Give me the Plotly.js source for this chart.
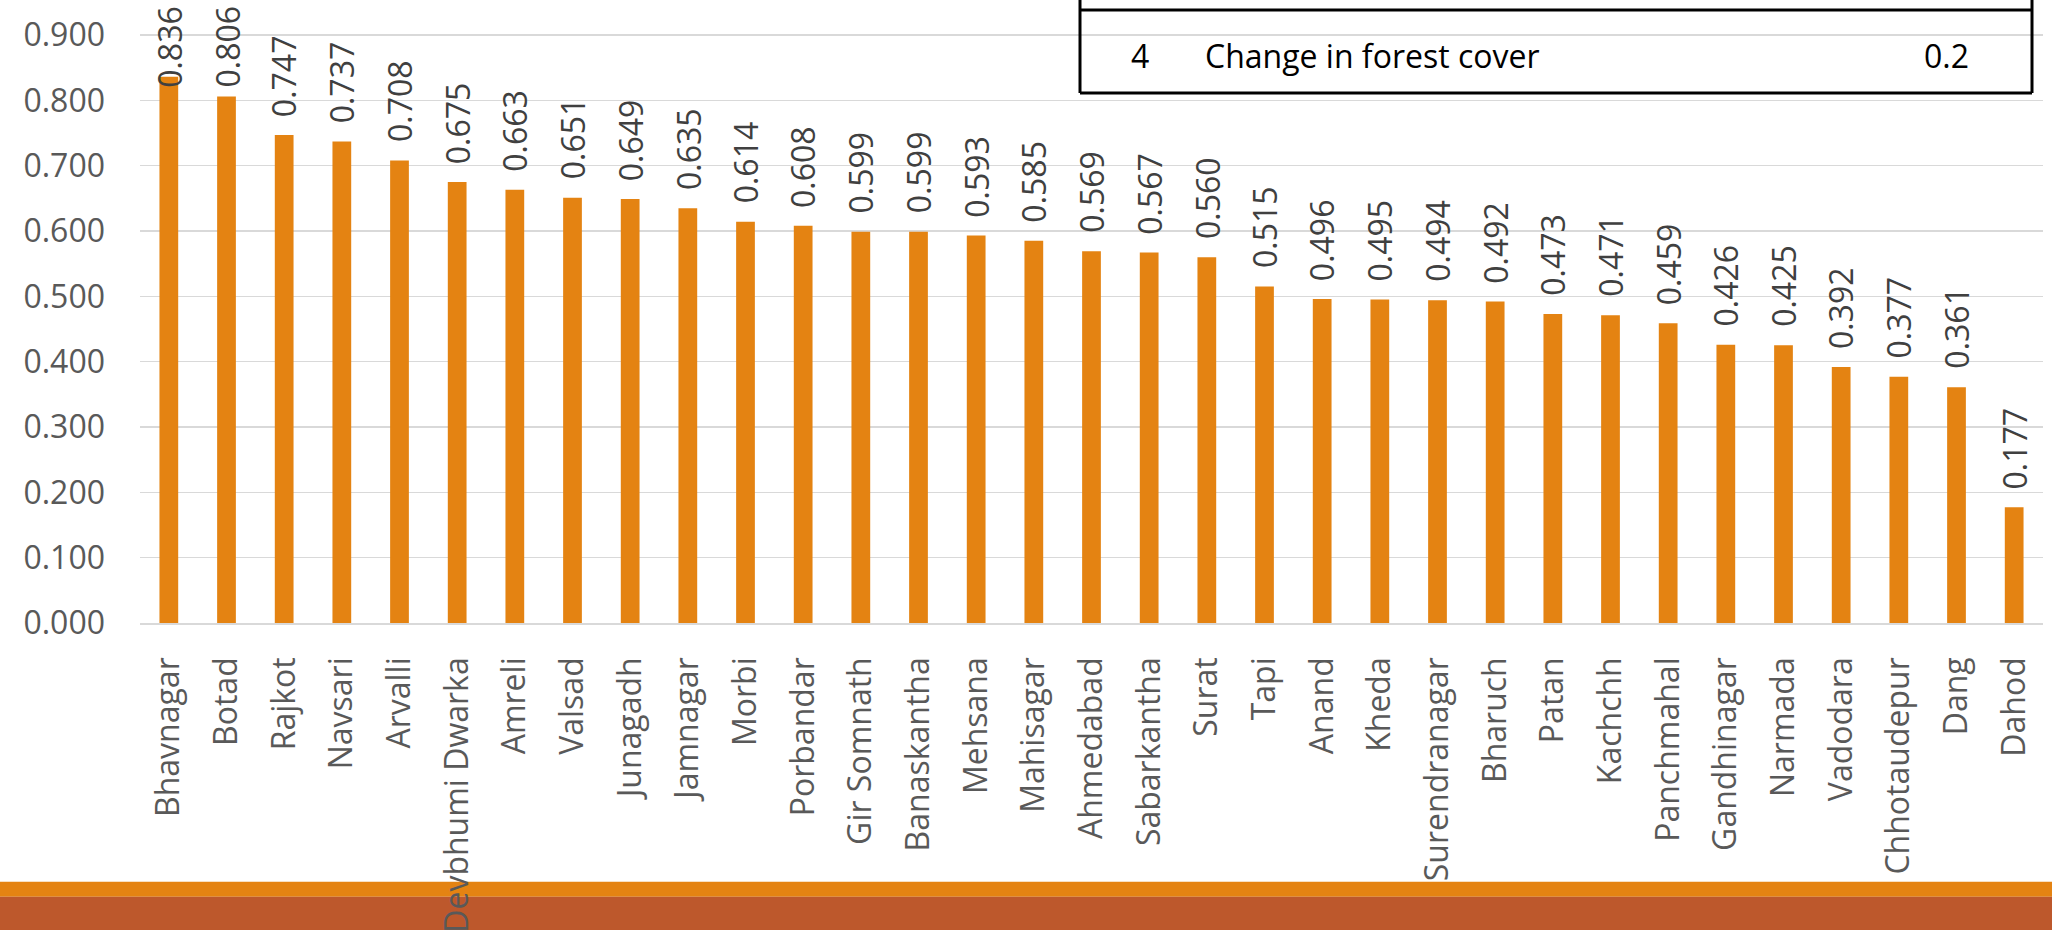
<!DOCTYPE html>
<html>
<head>
<meta charset="utf-8">
<script src="https://cdn.plot.ly/plotly-3.0.1.min.js"></script>
<style>
html,body{margin:0;padding:0;background:#fff;}
#chart{width:2052px;height:930px;}
</style>
</head>
<body>
<div id="chart"></div>
<script>
// ---- data ----
var districts = ["Bhavnagar","Botad","Rajkot","Navsari","Arvalli","Devbhumi Dwarka","Amreli","Valsad","Junagadh","Jamnagar","Morbi","Porbandar","Gir Somnath","Banaskantha","Mehsana","Mahisagar","Ahmedabad","Sabarkantha","Surat","Tapi","Anand","Kheda","Surendranagar","Bharuch","Patan","Kachchh","Panchmahal","Gandhinagar","Narmada","Vadodara","Chhotaudepur","Dang","Dahod"];
var scores = [0.836,0.806,0.747,0.737,0.708,0.675,0.663,0.651,0.649,0.635,0.614,0.608,0.599,0.599,0.593,0.585,0.569,0.567,0.560,0.515,0.496,0.495,0.494,0.492,0.473,0.471,0.459,0.426,0.425,0.392,0.377,0.361,0.177];
var tableNo = ["4"];
var tableIndicator = ["Change in forest cover"];
var tableWeight = ["0.2"];

// ---- layout constants ----
var W = 2052, H = 930;
var mL = 140, mR = 9, mT = 0, mB = 307;
var plotW = W - mL - mR, plotH = H - mT - mB;
var pxPerUnit = 653.3;
var yTop = plotH / pxPerUnit;
function px2x(p){ return (p - mL) / plotW; }
function px2y(p){ return (mT + plotH - p) / plotH; }

var labelFont = {family: "Open Sans, sans-serif", size: 32, color: "#404040"};
var gap = 16, labelLen = 84, topPad = 7;

var annotations = [];
for (var i = 0; i < districts.length; i++) {
  var barTopPx = mT + plotH - scores[i] * pxPerUnit;
  var txt = scores[i].toFixed(3);
  if (barTopPx - gap - labelLen < topPad) {
    annotations.push({x: districts[i], xref: "x", y: 1, yref: "paper", yanchor: "top", yshift: -topPad + 3,
      text: txt, textangle: -90, showarrow: false, font: labelFont});
  } else {
    annotations.push({x: districts[i], xref: "x", y: scores[i], yref: "y", yanchor: "bottom", yshift: gap,
      text: txt, textangle: -90, showarrow: false, font: labelFont});
  }
}

var tblFont = {family: "Open Sans, sans-serif", size: 32, color: "#000000"};
var rowY = px2y(55);
annotations.push({x: px2x(1140), y: rowY, xref: "paper", yref: "paper", xanchor: "center", yanchor: "middle", text: tableNo[0], showarrow: false, font: tblFont});
annotations.push({x: px2x(1203), y: rowY, xref: "paper", yref: "paper", xanchor: "left", yanchor: "middle", text: tableIndicator[0], showarrow: false, font: tblFont});
annotations.push({x: px2x(1971), y: rowY, xref: "paper", yref: "paper", xanchor: "right", yanchor: "middle", text: tableWeight[0], showarrow: false, font: tblFont});

var tblL = px2x(1080), tblR = px2x(2032);
var shapes = [
  // bottom bands
  {type: "rect", xref: "paper", yref: "paper", x0: px2x(0), x1: px2x(W), y0: px2y(896.7), y1: px2y(881.7), fillcolor: "#E48312", line: {width: 0}, layer: "below"},
  {type: "rect", xref: "paper", yref: "paper", x0: px2x(0), x1: px2x(W), y0: px2y(931), y1: px2y(896.7), fillcolor: "#BD582C", line: {width: 0}, layer: "below"},
  // table lines
  {type: "line", xref: "paper", yref: "paper", x0: tblL, x1: tblL, y0: px2y(-2), y1: px2y(93), line: {color: "#000", width: 3}},
  {type: "line", xref: "paper", yref: "paper", x0: tblR, x1: tblR, y0: px2y(-2), y1: px2y(93), line: {color: "#000", width: 3}},
  {type: "line", xref: "paper", yref: "paper", x0: tblL, x1: tblR, y0: px2y(10), y1: px2y(10), line: {color: "#000", width: 3}},
  {type: "line", xref: "paper", yref: "paper", x0: tblL, x1: tblR, y0: px2y(93), y1: px2y(93), line: {color: "#000", width: 3}}
];

var trace = {
  type: "bar",
  x: districts,
  y: scores,
  marker: {color: "#E48312", line: {width: 0}},
  hoverinfo: "x+y"
};

var layout = {
  width: W, height: H,
  margin: {l: mL, r: mR, t: mT, b: mB, pad: 0},
  paper_bgcolor: "#ffffff",
  plot_bgcolor: "#ffffff",
  showlegend: false,
  bargap: 0.675,
  font: {family: "Open Sans, sans-serif"},
  xaxis: {
    type: "category",
    tickangle: -90,
    tickfont: {family: "Open Sans, sans-serif", size: 32, color: "#595959"},
    showline: true, linecolor: "#d9d9d9", linewidth: 1.5,
    showgrid: false, ticks: "", ticklabelstandoff: 20,
    automargin: false
  },
  yaxis: {
    range: [0, yTop],
    dtick: 0.1, tick0: 0,
    tickformat: ".3f",
    tickfont: {family: "Open Sans, sans-serif", size: 32, color: "#595959"},
    showgrid: true, gridcolor: "#d9d9d9", gridwidth: 1.5,
    zeroline: false, showline: false, ticks: "",
    ticklabelstandoff: 34,
    automargin: false
  },
  annotations: annotations,
  shapes: shapes
};

Plotly.newPlot("chart", [trace], layout, {displayModeBar: false, staticPlot: true});
</script>
</body>
</html>
